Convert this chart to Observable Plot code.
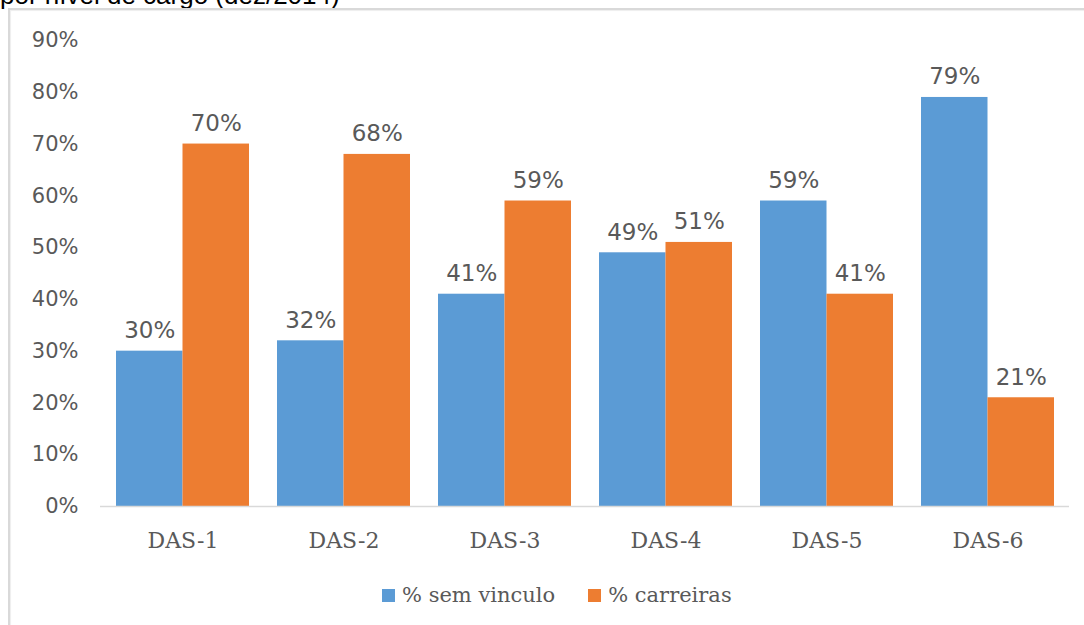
<!DOCTYPE html>
<html>
<head>
<meta charset="utf-8">
<script src="https://cdn.jsdelivr.net/npm/d3@7"></script>
<script src="https://cdn.jsdelivr.net/npm/@observablehq/plot@0.6"></script>
<style>
  html, body { margin: 0; padding: 0; background: #fff; overflow: hidden; }
  #wrap { position: relative; width: 1084px; height: 625px; overflow: hidden; }
  #title { position: absolute; left: 0; top: -18px; font: 26px/26px "Liberation Sans", Arial, sans-serif; color: #000; white-space: nowrap; }
  #frame { position: absolute; left: 8px; top: 8px; width: 1090px; height: 640px; border-left: 2px solid #d9d9d9; border-top: 2px solid #d9d9d9; box-shadow: inset 1px 1px 1px #eee; }
  #chart { position: absolute; left: 0; top: 0; }
  #legend { position: absolute; left: 382px; top: 580px; display: flex; align-items: center; font-family: "DejaVu Serif", serif; font-size: 21px; line-height: 30px; color: #595959; }
  #legend span.lab { font-family: "DejaVu Serif", serif; }
  .sw { display: inline-block; width: 13px; height: 13px; margin-right: 7px; }
  .item { display: flex; align-items: center; margin-right: 33px; }
</style>
</head>
<body>
<div id="wrap">
  <div id="title">por nível de cargo (dez/2014)</div>
  <div id="frame"></div>
  <div id="chart"></div>
  <div id="legend"></div>
</div>
<script>
const categories = ["DAS-1", "DAS-2", "DAS-3", "DAS-4", "DAS-5", "DAS-6"];
const semVinculo = [30, 32, 41, 49, 59, 79];
const carreiras = [70, 68, 59, 51, 41, 21];
const seriesNames = ["% sem vinculo", "% carreiras"];
const seriesColors = ["#5B9BD5", "#ED7D31"];
const yTicks = [0, 10, 20, 30, 40, 50, 60, 70, 80, 90];

const rowsA = categories.map((c, i) => ({cat: c, v: semVinculo[i] / 100}));
const rowsB = categories.map((c, i) => ({cat: c, v: carreiras[i] / 100}));

const half = 66.5;
const numFont = "'DejaVu Sans', sans-serif";
const serifFont = "'DejaVu Serif', serif";

const chart = Plot.plot({
  width: 1084,
  height: 560,
  marginLeft: 100,
  marginRight: 15,
  marginTop: 40,
  marginBottom: 54,
  style: {background: "transparent", fontFamily: numFont},
  x: {domain: categories, paddingInner: 0.176, paddingOuter: 0.088, label: null},
  y: {domain: [0, 0.9], label: null},
  marks: [
    Plot.axisY(yTicks.map(d => d / 100), {
      tickSize: 0, tickPadding: 22, tickFormat: d => Math.round(d * 100) + "%",
      fontSize: 21, fill: "#595959", fontFamily: numFont
    }),
    Plot.axisX({
      tickSize: 0, tickPadding: 26, fontSize: 22, fill: "#595959",
      fontFamily: serifFont
    }),
    Plot.barY(rowsA, {x: "cat", y: "v", fill: seriesColors[0], insetRight: half, insetLeft: 0}),
    Plot.barY(rowsB, {x: "cat", y: "v", fill: seriesColors[1], insetLeft: half, insetRight: 0}),
    Plot.ruleY([0], {stroke: "#d9d9d9", strokeWidth: 1.5}),
    Plot.text(rowsA, {x: "cat", y: "v", dx: -half / 2, dy: -13, lineAnchor: "bottom",
      text: d => Math.round(d.v * 100) + "%", fontSize: 23, fill: "#595959", fontFamily: numFont}),
    Plot.text(rowsB, {x: "cat", y: "v", dx: half / 2, dy: -13, lineAnchor: "bottom",
      text: d => Math.round(d.v * 100) + "%", fontSize: 23, fill: "#595959", fontFamily: numFont})
  ]
});
document.getElementById("chart").appendChild(chart);

const legend = document.getElementById("legend");
seriesNames.forEach((n, i) => {
  const item = document.createElement("div");
  item.className = "item";
  const sw = document.createElement("span");
  sw.className = "sw";
  sw.style.background = seriesColors[i];
  const lab = document.createElement("span");
  lab.className = "lab";
  lab.textContent = n;
  item.appendChild(sw);
  item.appendChild(lab);
  legend.appendChild(item);
});
</script>
</body>
</html>
